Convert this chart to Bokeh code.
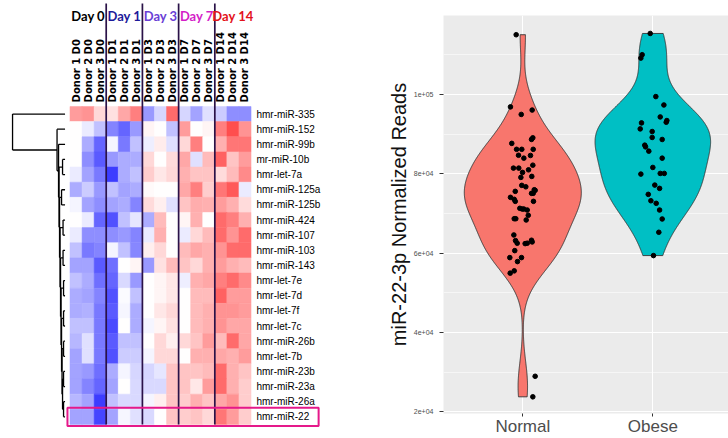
import numpy as np
from bokeh.plotting import figure
from bokeh.layouts import row
from bokeh.models import Range1d, ColumnDataSource, LinearColorMapper, FixedTicker
from bokeh.transform import transform
from bokeh.core.properties import value
from bokeh.embed import file_html
from bokeh.resources import INLINE

# ---------------- heatmap data ----------------
days = ["Day 0", "Day 1", "Day 3", "Day 7", "Day 14"]
day_colors = ["#000000", "#1d1a9a", "#6a3fd6", "#d41ec8", "#e3121b"]
samples = ["Donor 1 D0", "Donor 2 D0", "Donor 3 D0",
           "Donor 1 D1", "Donor 2 D1", "Donor 3 D1",
           "Donor 1 D3", "Donor 2 D3", "Donor 3 D3",
           "Donor 1 D7", "Donor 2 D7", "Donor 3 D7",
           "Donor 1 D14", "Donor 2 D14", "Donor 3 D14"]
mirnas = ["hmr-miR-335", "hmr-miR-152", "hmr-miR-99b", "mr-miR-10b", "hmr-let-7a",
          "hmr-miR-125a", "hmr-miR-125b", "hmr-miR-424", "hmr-miR-107", "hmr-miR-103",
          "hmr-miR-143", "hmr-let-7e", "hmr-let-7d", "hmr-let-7f", "hmr-let-7c",
          "hmr-miR-26b", "hmr-let-7b", "hmr-miR-23b", "hmr-miR-23a", "hmr-miR-26a",
          "hmr-miR-22"]
highlight = "hmr-miR-22"

z = [
    [0.50, 0.55, 0.20, 0.15, 0.45, 0.65, -0.50, -0.20, 0.75, -0.20, -0.45, -0.15, -0.25, -0.55, -0.55],
    [0.00, -0.10, -0.30, -0.60, -0.75, -0.50, 0.05, 0.00, -0.30, 0.50, 0.00, 0.05, 0.65, 0.90, 0.55],
    [0.00, -0.40, -0.75, -0.05, -0.65, -0.30, -0.08, 0.10, -0.15, 0.20, 0.65, 0.00, 0.40, 0.70, 0.70],
    [0.00, -0.55, -0.80, -0.50, -0.40, -0.40, 0.20, 0.00, 0.18, 0.45, -0.15, 0.35, 0.80, 0.30, 0.50],
    [-0.10, -0.45, -0.65, -0.95, -0.40, -0.30, 0.25, 0.12, 0.20, 0.40, 0.30, 0.30, 0.18, 0.35, 0.60],
    [-0.40, -0.25, -0.50, -0.30, -0.45, -0.40, 0.03, 0.00, 0.00, 0.45, 0.65, 0.25, 0.70, 0.85, -0.10],
    [-0.05, -0.45, -0.55, -0.45, -0.40, -0.60, 0.18, 0.08, -0.15, 0.30, 0.42, 0.40, 0.50, 0.40, 0.18],
    [0.00, -0.10, -0.75, -0.85, -0.30, -0.12, -0.40, 0.35, 0.00, 0.05, 0.40, 0.00, 0.75, 0.65, 0.40],
    [-0.10, -0.55, -0.55, -0.55, -0.50, -0.60, -0.10, 0.40, 0.00, -0.10, 0.20, 0.35, 0.75, 0.55, 0.75],
    [-0.30, -0.65, -0.60, -0.05, -0.30, -0.58, 0.08, 0.20, 0.00, 0.35, 0.45, 0.40, 0.55, 0.75, 0.75],
    [-0.45, -0.45, -0.80, -0.70, 0.00, 0.05, -0.50, 0.15, 0.35, 0.30, 0.20, 0.40, 0.50, 0.40, 0.35],
    [-0.30, -0.40, -0.70, -0.75, -0.18, -0.50, 0.00, 0.05, 0.12, -0.08, 0.40, 0.45, 0.65, 0.75, 0.60],
    [-0.40, -0.45, -0.60, -0.85, -0.02, -0.30, 0.00, 0.05, 0.12, 0.00, 0.35, 0.35, 0.80, 0.50, 0.50],
    [-0.40, -0.38, -0.65, -0.80, -0.04, -0.40, 0.00, 0.12, 0.20, 0.00, 0.35, 0.40, 0.55, 0.55, 0.50],
    [-0.30, -0.30, -0.65, -0.88, 0.00, -0.40, -0.05, 0.05, 0.15, 0.00, 0.35, 0.40, 0.55, 0.45, 0.45],
    [-0.35, -0.15, -0.65, -0.80, -0.30, -0.30, 0.00, 0.20, 0.08, 0.20, 0.30, 0.50, 0.35, 0.75, 0.45],
    [-0.45, -0.15, -0.65, -0.85, -0.25, -0.25, -0.05, 0.20, 0.20, 0.00, 0.40, 0.40, 0.45, 0.40, 0.50],
    [-0.45, -0.50, -0.70, -0.40, -0.05, -0.20, -0.20, -0.12, 0.30, 0.30, 0.30, 0.35, 0.75, 0.40, 0.30],
    [-0.45, -0.60, -0.75, -0.45, 0.00, -0.18, -0.18, -0.18, 0.30, 0.30, 0.12, 0.50, 0.75, 0.40, 0.25],
    [-0.35, -0.45, -0.95, -0.30, -0.18, -0.18, -0.05, 0.08, 0.30, 0.25, 0.40, 0.30, 0.45, 0.55, 0.25],
    [-0.45, -0.45, -0.90, -0.45, -0.04, -0.15, -0.18, 0.00, 0.30, 0.25, 0.30, 0.20, 0.70, 0.50, 0.25],
]

# dendrogram merges: (left id, right id, height); ids >= 21 are earlier merges
merges = [
    (3, 4, 2.5), (5, 6, 3.5), (7, 8, 2.0), (9, 10, 2.0), (11, 12, 1.5),
    (13, 14, 1.5), (15, 16, 1.5), (17, 18, 1.5), (19, 20, 1.5),
    (28, 29, 2.5), (27, 30, 3.0), (26, 31, 3.5), (25, 32, 4.0), (24, 33, 4.5),
    (23, 34, 5.0), (22, 35, 5.5), (21, 36, 6.0), (2, 37, 6.5), (1, 38, 8.0),
    (0, 39, 52.5),
]

# ---------------- violin data ----------------
groups = ["Normal", "Obese"]
group_colors = ["#F8766D", "#00BFC4"]
normal_reads = [115100, 96900, 96100, 95000, 87700, 89100, 88700, 86200, 86200, 86200,
                84700, 84650, 83970, 82200, 81460, 81460, 81030, 80380, 79120, 79370,
                77110, 76750, 75600, 76000, 75850, 75100, 75100, 74090, 73590, 73080,
                73080, 71320, 71140, 71140, 70890, 69560, 68700, 68700, 68380, 64600,
                63170, 62520, 62420, 62520, 63270, 62840, 60650, 58890, 58890, 57890,
                55550, 54970, 28960, 23780]
normal_jitter = [-0.051, -0.095, 0.072, -0.012, -0.085, 0.077, 0.067, -0.048, -0.008, 0.08,
                 -0.033, 0.059, 0.008, 0.077, -0.072, -0.031, 0.044, -0.002, -0.015, 0.069,
                 -0.008, 0.023, -0.058, 0.088, 0.095, 0.067, 0.08, -0.095, -0.066, -0.058,
                 0.082, -0.023, -0.005, 0.008, 0.034, 0.042, -0.066, -0.054, 0.026, -0.069,
                 -0.056, -0.043, 0.018, 0.034, 0.067, 0.072, -0.062, -0.1, -0.01, -0.041,
                 -0.066, -0.097, 0.095, 0.077]
obese_reads = [115420, 110060, 109210, 99500, 97380, 94370, 93460, 93030, 92860, 91350,
               90690, 89190, 88680, 87250, 86820, 85740, 83970, 81630, 79950, 80120,
               80120, 77180, 76350, 74840, 73230, 72580, 70890, 68630, 65280, 59400]
obese_jitter = [-0.02, -0.082, -0.092, 0.023, 0.085, 0.057, 0.108, 0.103, -0.087, -0.097,
                -0.005, -0.005, 0.072, -0.062, -0.056, -0.031, 0.072, 0.0, -0.092, 0.057,
                0.088, 0.015, 0.052, -0.035, -0.015, 0.026, 0.052, 0.072, 0.046, 0.005]
y_ticks = [20000, 40000, 60000, 80000, 100000]
y_tick_labels = ["2e+04", "4e+04", "6e+04", "8e+04", "1e+05"]
y_title = "miR-22-3p Normalized Reads"

# ================= left panel: heatmap =================
n_rows, n_cols = len(mirnas), len(samples)
left = figure(width=360, height=438, x_range=Range1d(-5.758, 24.07), y_range=Range1d(21.93, -7.0),
              output_backend="svg", toolbar_location=None, min_border=0, title=None)
left.frame_align = False
left.axis.visible = False
left.grid.visible = False
left.outline_line_color = None

palette = []
for i in range(256):
    t = i / 255 * 2 - 1
    if t < 0:
        a = -t
        c = (255 - a * 205, 255 - a * 205, 255)
    else:
        c = (255, 255 - t * 195, 255 - t * 195)
    palette.append("#%02x%02x%02x" % tuple(int(round(v)) for v in c))
mapper = LinearColorMapper(palette=palette, low=-1, high=1)

hx, hy, hv = [], [], []
for r in range(n_rows):
    for c in range(n_cols):
        hx.append(c + 0.5)
        hy.append(r + 0.5)
        hv.append(z[r][c])
hsrc = ColumnDataSource(dict(x=hx, y=hy, v=hv))
left.rect("x", "y", width=1, height=1, source=hsrc, fill_color=transform("v", mapper),
          line_color=transform("v", mapper), line_width=0.5)

# group separators
per_day = n_cols // len(days)
sep = [per_day * (i + 1) for i in range(len(days) - 1)]
left.segment(x0=sep, y0=-6.8, x1=sep, y1=n_rows, line_color="#2a1248", line_width=1.7)

# day headers
left.text(x=[per_day * i + per_day / 2 for i in range(len(days))], y=-5.95, text=days,
          text_color=day_colors, text_font=value("Lato"),
          text_font_style="bold", text_font_size="13px", text_align="center", text_baseline="middle")

# sample labels
left.text(x=[c + 0.5 for c in range(n_cols)], y=-0.27, text=samples, angle=np.pi / 2,
          text_font=value("DejaVu Sans"), text_font_style="bold", text_font_size="10px",
          text_align="left", text_baseline="middle", text_color="black")

# row labels
left.text(x=15.45, y=[r + 0.5 for r in range(n_rows)], text=mirnas,
          text_font=value("Liberation Sans"), text_font_size="10px",
          text_align="left", text_baseline="middle", text_color="black")

# highlight box
hr = mirnas.index(highlight)
left.quad(left=-0.21, right=20.6, top=hr - 0.1, bottom=hr + 1.1, fill_color=None,
          line_color="#e5198a", line_width=2)

# dendrogram
leaf_x = -0.41
kpx = 1 / 12.07
pos = {i: i + 0.5 for i in range(n_rows)}
hgt = {i: 0.0 for i in range(n_rows)}
sx0, sy0, sx1, sy1 = [], [], [], []
for j, (a, b, h) in enumerate(merges):
    X = leaf_x - h * kpx
    for ch in (a, b):
        sx0.append(leaf_x - hgt[ch] * kpx); sy0.append(pos[ch]); sx1.append(X); sy1.append(pos[ch])
    sx0.append(X); sy0.append(pos[a]); sx1.append(X); sy1.append(pos[b])
    pos[n_rows + j] = (pos[a] + pos[b]) / 2
    hgt[n_rows + j] = h
left.segment(x0=sx0, y0=sy0, x1=sx1, y1=sy1, line_color="black", line_width=1.3)

# ================= right panel: violin =================
right = figure(width=368, height=438, x_range=Range1d(0.39, 2.582), y_range=Range1d(19575, 119950),
               output_backend="svg", toolbar_location=None, title=None,
               min_border_left=83, min_border_right=0, min_border_top=15, min_border_bottom=21)
right.frame_align = False
right.background_fill_color = "#EBEBEB"
right.border_fill_color = "white"
right.outline_line_color = None

minor = [(a + b) / 2 for a, b in zip(y_ticks, y_ticks[1:])] + [y_ticks[-1] + (y_ticks[1] - y_ticks[0]) / 2]
right.ygrid.ticker = FixedTicker(ticks=y_ticks, minor_ticks=minor)
right.ygrid.grid_line_color = "white"
right.ygrid.grid_line_width = 1.1
right.ygrid.minor_grid_line_color = "white"
right.ygrid.minor_grid_line_width = 0.55
right.xgrid.ticker = FixedTicker(ticks=[1, 2])
right.xgrid.grid_line_color = "white"
right.xgrid.grid_line_width = 1.1

right.yaxis.ticker = FixedTicker(ticks=y_ticks)
right.yaxis.major_label_overrides = dict(zip(y_ticks, y_tick_labels))
right.yaxis.axis_line_color = None
right.yaxis.minor_tick_line_color = None
right.yaxis.major_tick_in = 0
right.yaxis.major_tick_out = 4
right.yaxis.major_tick_line_color = "#333333"
right.yaxis.major_label_text_font_size = "7px"
right.yaxis.major_label_text_color = "#4D4D4D"
right.yaxis.major_label_text_font = "Liberation Sans"
right.yaxis.major_label_standoff = 6
right.yaxis.axis_label = y_title
right.yaxis.axis_label_text_font = "Liberation Sans"
right.yaxis.axis_label_text_font_size = "20px"
right.yaxis.axis_label_text_font_style = "normal"
right.yaxis.axis_label_text_color = "#111111"
right.yaxis.axis_label_standoff = 1

right.xaxis.ticker = FixedTicker(ticks=[1, 2])
right.xaxis.major_label_overrides = {i + 1: g for i, g in enumerate(groups)}
right.xaxis.axis_line_color = None
right.xaxis.minor_tick_line_color = None
right.xaxis.major_tick_in = 0
right.xaxis.major_tick_out = 3
right.xaxis.major_tick_line_color = "#333333"
right.xaxis.major_label_text_font_size = "17px"
right.xaxis.major_label_text_color = "#4D4D4D"
right.xaxis.major_label_text_font = "Liberation Sans"
right.xaxis.major_label_standoff = 0


def nrd0(x):
    x = np.asarray(x, float)
    hi = x.std(ddof=1)
    q75, q25 = np.percentile(x, [75, 25])
    lo = min(hi, (q75 - q25) / 1.34)
    return 0.9 * lo * len(x) ** -0.2


dens = []
for vals in (normal_reads, obese_reads):
    v = np.asarray(vals, float)
    bw = nrd0(v)
    grid = np.linspace(v.min(), v.max(), 512)
    d = np.exp(-0.5 * ((grid[:, None] - v[None, :]) / bw) ** 2).sum(1) / (len(v) * bw * np.sqrt(2 * np.pi))
    dens.append((grid, d))
dmax = max(d.max() for _, d in dens)
for i, (grid, d) in enumerate(dens):
    hw = 0.45 * d / dmax
    cx = i + 1
    px = np.concatenate([cx - hw, (cx + hw)[::-1]])
    py = np.concatenate([grid, grid[::-1]])
    right.patch(px, py, fill_color=group_colors[i], line_color="#333333", line_width=0.9)

for i, (vals, jit) in enumerate([(normal_reads, normal_jitter), (obese_reads, obese_jitter)]):
    right.scatter(x=[i + 1 + j for j in jit], y=vals, size=4.6, color="black")

layout = row(left, right)
open("out.html", "w").write(file_html(layout, INLINE))
